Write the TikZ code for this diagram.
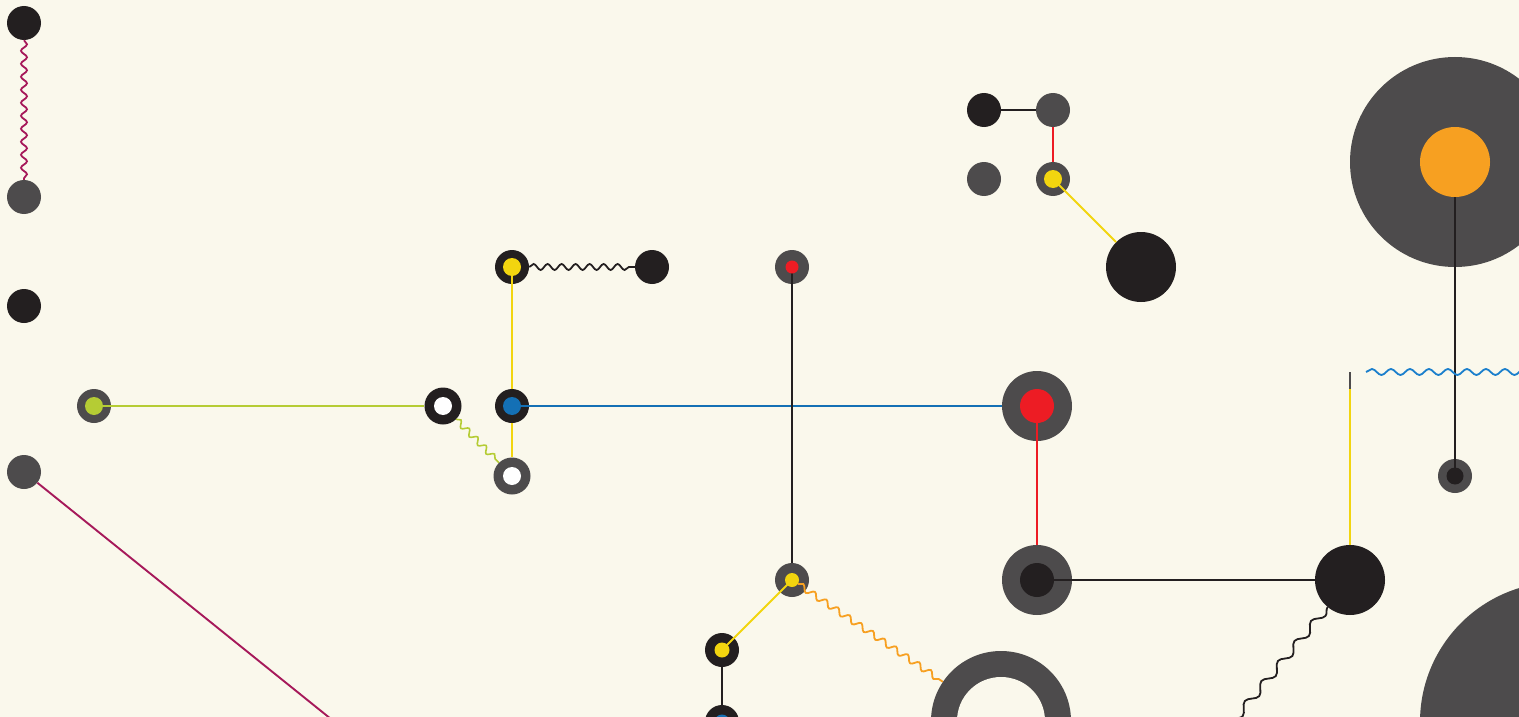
\documentclass[tikz,border=0pt]{standalone}
\usetikzlibrary{decorations.pathmorphing}
\definecolor{bg}{RGB}{250,248,236}
\definecolor{dk}{RGB}{35,31,32}
\definecolor{gr}{RGB}{77,75,76}
\definecolor{ye}{RGB}{242,213,15}
\definecolor{bl}{RGB}{20,112,181}
\definecolor{rd}{RGB}{237,28,36}
\definecolor{og}{RGB}{247,160,33}
\definecolor{lm}{RGB}{181,204,52}
\definecolor{mg}{RGB}{166,25,90}
\definecolor{wb}{RGB}{27,127,204}
\definecolor{hole}{RGB}{255,255,255}
\begin{document}
\begin{tikzpicture}[x=1pt,y=-1pt,
  dot/.style={circle,inner sep=0pt,minimum size=#1,draw=none},
  ln/.style={line width=1.9pt},
  wave/.style={line width=1.8pt,decorate,decoration={snake,segment length=#1,amplitude=3pt}},
  bigwave/.style={line width=1.8pt,decorate,decoration={snake,segment length=#1,amplitude=4pt}}]
\useasboundingbox (0,0) rectangle (1519,717);
\fill[bg] (0,0) rectangle (1519,717);
\begin{scope}
\clip (0,0) rectangle (1519,717);
% big shapes
\node[dot=210pt,fill=gr] (h1) at (1455,162) {};
\node[dot=280pt,fill=gr] (h3) at (1560,722) {};
\node[dot=140pt,fill=gr] (e1) at (1001,721) {};
\node[dot=88pt,fill=bg] (e1i) at (1001,721) {};
% outer nodes
\node[dot=34pt,fill=dk] (a1) at (24,23) {};
\node[dot=34pt,fill=gr] (a2) at (24,197) {};
\node[dot=34pt,fill=dk] (a3) at (24,306) {};
\node[dot=34pt,fill=gr] (a4) at (24,472) {};
\coordinate (a4e) at (331,719);
\node[dot=34pt,fill=gr] (b1) at (94,406) {};
\node[dot=37pt,fill=dk] (b2) at (443,406) {};
\node[dot=34pt,fill=dk] (c1) at (512,267) {};
\node[dot=34pt,fill=dk] (c2) at (652,267) {};
\node[dot=34pt,fill=dk] (c3) at (512,406) {};
\node[dot=37pt,fill=gr] (c4) at (512,476) {};
\node[dot=34pt,fill=gr] (d1) at (792,267) {};
\node[dot=34pt,fill=gr] (d2) at (792,580) {};
\node[dot=34pt,fill=dk] (d3) at (722,650) {};
\node[dot=34pt,fill=dk] (d4) at (722,722) {};
\node[dot=70pt,fill=gr] (f1) at (1037,406) {};
\node[dot=70pt,fill=gr] (f2) at (1037,580) {};
\node[dot=70pt,fill=dk] (f3) at (1350,580) {};
\node[dot=34pt,fill=dk] (g1) at (984,110) {};
\node[dot=34pt,fill=gr] (g2) at (1053,110) {};
\node[dot=34pt,fill=gr] (g3) at (984,179) {};
\node[dot=34pt,fill=gr] (g4) at (1053,179) {};
\node[dot=70pt,fill=dk] (g5) at (1141,267) {};
\node[dot=34pt,fill=gr] (h2) at (1455,476) {};
\coordinate (fw) at (1231,724);
\coordinate (yt) at (1350,389);
\coordinate (ytt) at (1350,372);
\coordinate (bw1) at (1366,372);
\coordinate (bw2) at (1530,372);
% connectors
\draw[mg,wave=13pt] (a1) -- (a2);
\draw[mg,ln] (a4) -- (a4e);
\draw[lm,ln] (b1.center) -- (b2);
\draw[lm,wave=12pt,line width=1.6pt] (b2) -- (c4);
\draw[ye,ln] (c1.center) -- (c3);
\draw[ye,ln] (c3) -- (c4);
\draw[dk,wave=14pt] (c1) -- (c2);
\draw[bl,ln] (c3.center) -- (f1);
\draw[dk,ln] (d1.center) -- (d2);
\draw[ye,ln] (d2.center) -- (d3.center);
\draw[dk,ln] (d3.center) -- (d4);
\draw[rd,ln] (f1.center) -- (f2);
\draw[dk,ln] (f2.center) -- (f3);
\draw[ye,ln] (yt) -- (f3);
\draw[gr,ln] (ytt) -- (yt);
\draw[dk,bigwave=26pt] (f3) -- (fw);
\draw[dk,ln] (g1) -- (g2);
\draw[rd,ln] (g2) -- (g4);
\draw[ye,ln] (g4.center) -- (g5);
\draw[dk,ln] (h1.center) -- (h2.center);
\draw[wb,wave=19pt] (bw1) -- (bw2);
% inner dots
\node[dot=18pt,fill=lm] (b1i) at (b1) {};
\node[dot=18pt,fill=hole] (b2i) at (b2) {};
\node[dot=18pt,fill=ye] (c1i) at (c1) {};
\node[dot=18pt,fill=bl] (c3i) at (c3) {};
\node[dot=18pt,fill=hole] (c4i) at (c4) {};
\node[dot=13pt,fill=rd] (d1i) at (d1) {};
\node[dot=14pt,fill=ye] (d2i) at (d2) {};
\draw[og,wave=14pt] (d2i) -- (e1);
\node[dot=15pt,fill=ye] (d3i) at (d3) {};
\node[dot=15pt,fill=bl] (d4i) at (d4) {};
\node[dot=34pt,fill=rd] (f1i) at (f1) {};
\node[dot=34pt,fill=dk] (f2i) at (f2) {};
\node[dot=18pt,fill=ye] (g4i) at (g4) {};
\node[dot=70pt,fill=og] (h1i) at (h1) {};
\node[dot=17pt,fill=dk] (h2i) at (h2) {};
\end{scope}
\end{tikzpicture}
\end{document}
